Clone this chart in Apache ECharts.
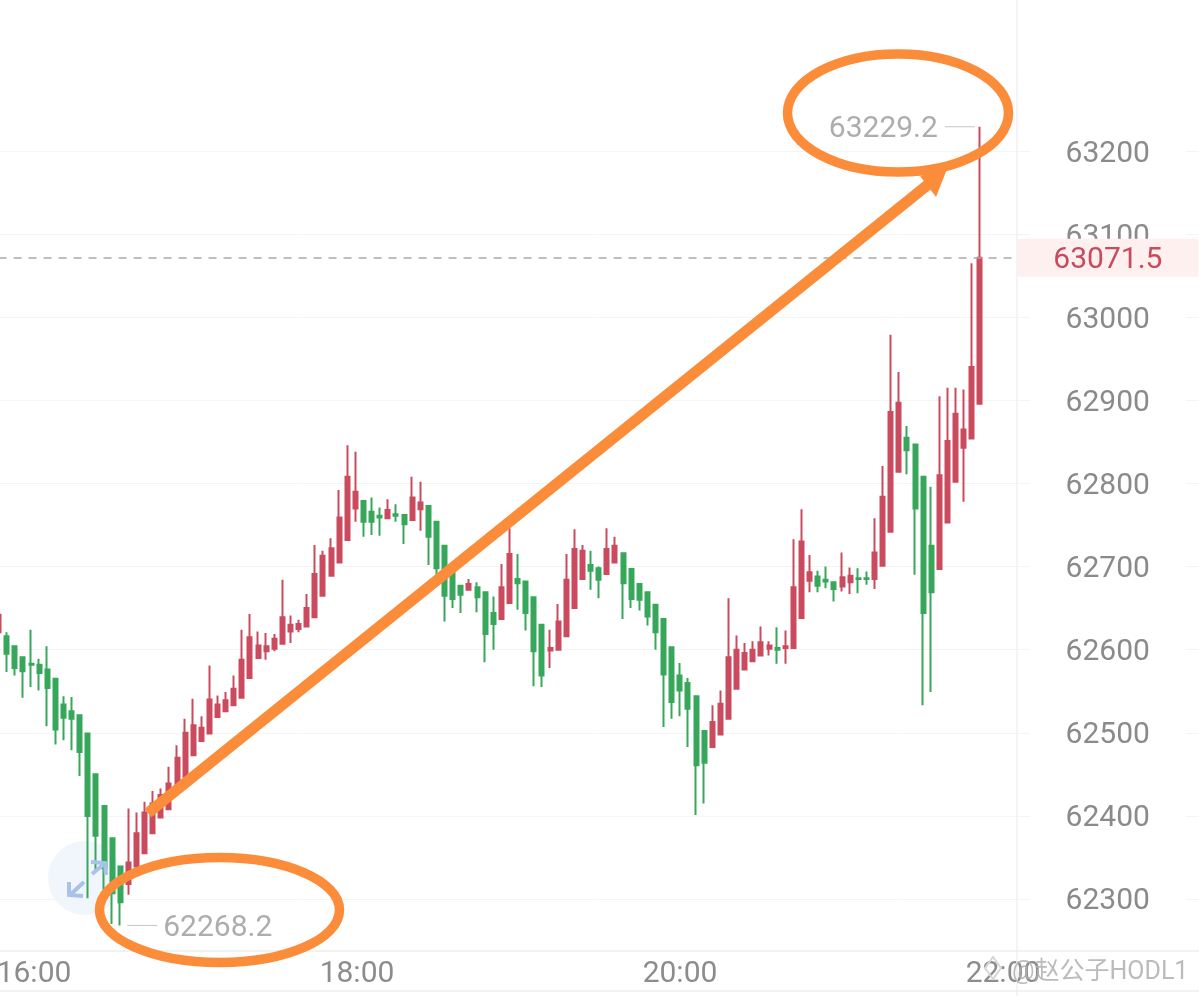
<!DOCTYPE html>
<html>
<head>
<meta charset="utf-8">
<style>html,body{margin:0;padding:0;background:#fff}#c{width:1199px;height:996px}</style>
<script src="https://cdn.jsdelivr.net/npm/echarts@6/dist/echarts.min.js"></script>
</head>
<body>
<div id="c"></div>
<script>
const opens = [62621,
62616,62604,62591,62583,62582,62576,62565,62534,62526,62521,62499,62450,62412,62373,62339,
62318,62339,62355,62379,62398,62408,62437,62447,62473,62490,62499,62519,62526,62533,62542,62566,62590,62598,62601,62607,62622,62625,62628,62639,62665,62689,62705,62732,62770,
62779,62766,62761,62758,62763,62762,62756,62769,62773,62754,62725,62692,62677,62672,62675,62669,62644,62637,62656,62685,62682,62663,62630,62599,62600,62616,62650,62685,62702,62698,62691,62705,62716,62697,62679,62669,62654,62637,62603,62569,62560,62544,62502,62483,62498,62517,62553,62576,62586,62593,62601,62602,62602,62602,62638,62683,62688,62684,62681,62676,62681,62686,62686,62685,62701,62742,62814,62855,62847,62808,62725,62697,62753,62802,62843,62854,62896];
const closes = [62642,
62595,62578,62574,62582,62572,62554,62504,62518,62517,62477,62400,62376,62337,62307,62296,
62344,62379,62404,62415,62425,62439,62470,62500,62509,62506,62540,62534,62539,62553,62588,62615,62605,62604,62613,62639,62630,62631,62650,62691,62713,62722,62759,62808,62790,
62754,62754,62759,62768,62761,62751,62783,62777,62736,62698,62665,62661,62666,62679,62663,62619,62631,62675,62715,62680,62644,62598,62569,62602,62634,62684,62721,62719,62695,62684,62721,62725,62680,62661,62660,62640,62621,62570,62537,62551,62529,62461,62464,62513,62535,62591,62600,62596,62600,62609,62605,62600,62604,62675,62730,62693,62677,62682,62673,62687,62689,62685,62685,62717,62784,62886,62897,62840,62770,62644,62669,62810,62851,62884,62865,62940,63071.5];
const lows = [62621,
62573,62569,62542,62555,62551,62508,62486,62491,62479,62448,62301,62335,62311,62270,62268.2,
62305,62338,62354,62379,62398,62408,62437,62447,62473,62490,62499,62519,62526,62533,62542,62566,62590,62588,62598,62607,62608,62621,62628,62639,62665,62689,62705,62732,62754,
62736,62738,62737,62758,62754,62727,62756,62743,62702,62690,62634,62650,62644,62672,62645,62585,62600,62637,62656,62648,62623,62556,62555,62578,62600,62616,62650,62685,62672,62662,62691,62705,62637,62650,62647,62629,62600,62507,62517,62520,62483,62401,62415,62483,62498,62517,62553,62576,62586,62593,62593,62583,62583,62602,62638,62669,62669,62674,62658,62670,62667,62668,62678,62673,62701,62742,62814,62811,62690,62533,62549,62697,62753,62802,62778,62854,62896];
const highs = [62648,
62621,62605,62592,62624,62589,62604,62565,62544,62543,62521,62499,62450,62412,62373,62339,
62409,62404,62417,62430,62433,62459,62485,62517,62541,62520,62581,62545,62549,62569,62624,62643,62622,62620,62619,62684,62641,62636,62667,62726,62719,62734,62792,62846,62838,
62779,62783,62771,62781,62775,62762,62808,62802,62773,62754,62725,62696,62677,62685,62681,62669,62664,62703,62746,62715,62682,62663,62630,62624,62655,62715,62745,62726,62719,62700,62746,62736,62717,62697,62679,62669,62654,62637,62603,62584,62566,62544,62502,62533,62551,62662,62617,62608,62610,62628,62610,62627,62623,62733,62769,62714,62695,62700,62681,62717,62699,62698,62694,62758,62821,62979,62934,62869,62847,62808,62796,62905,62915,62915,62913,63065,63229.2];
const timeTicks = ['16:00','18:00','20:00','22:00'];
const lastPrice = 63071.5;
const highestValue = 63229.2;
const lowestValue = 62268.2;

const RED = '#cb4b5e', GREEN = '#37a75b', ORANGE = '#fb8c3a';
const FONT = 'Roboto, "Noto Sans CJK SC", sans-serif';
const slotCount = 149;            // chart slots incl. the empty space on the right
const categories = Array.from({length: slotCount}, (_, i) => String(i));
const candles = opens.map((o, i) => [o, closes[i], lows[i], highs[i]]);
const highIdx = highs.indexOf(highestValue);
const lowIdx = lows.indexOf(lowestValue);

const chart = echarts.init(document.getElementById('c'), null, {renderer: 'canvas', width: 1199, height: 996});
chart.setOption({
  animation: false,
  backgroundColor: '#fff',
  grid: [
    {left: -5.47, width: 1208.39, top: 67.89, height: 914.22, outerBoundsMode: 'none', containLabel: false},
    {left: 34, width: 969, top: 0, height: 951, outerBoundsMode: 'none', containLabel: false}
  ],
  xAxis: [
    {type: 'category', gridIndex: 0, data: categories, show: false},
    {type: 'category', gridIndex: 1, data: timeTicks, boundaryGap: false,
     axisTick: {show: false},
     axisLine: {show: false},
     axisLabel: {interval: 0, color: '#8c8c8c', fontFamily: FONT, fontSize: 30, margin: 8, hideOverlap: false,
                 showMinLabel: true, showMaxLabel: true}}
  ],
  yAxis: [
    {type: 'value', gridIndex: 0, position: 'right', min: 62200, max: 63300, interval: 100,
     axisLine: {show: false}, axisTick: {show: false},
     splitLine: {show: true, showMinLine: false, showMaxLine: false, lineStyle: {color: '#f4f4f4', width: 1}},
     axisLabel: {inside: true, margin: 17,
                 formatter: v => '{a|' + v + '}',
                 rich: {a: {color: '#8a8a8a', fontFamily: FONT, fontSize: 30, padding: [6, 0, 0, 0]}},
                 showMinLabel: false, showMaxLabel: false,
                 backgroundColor: '#fff', padding: [0, 36, 0, 36]}},
    {type: 'value', gridIndex: 1, show: false}
  ],
  series: [{
    type: 'candlestick',
    xAxisIndex: 0, yAxisIndex: 0,
    data: candles,
    barWidth: 4.5,
    itemStyle: {color: RED, color0: GREEN, borderColor: RED, borderColor0: GREEN, borderWidth: 2},
    markLine: {
      silent: true, symbol: 'none',
      lineStyle: {type: [8, 7], color: '#a9a9a9', width: 1.5},
      data: [[
        {coord: ['0', lastPrice]},
        {coord: ['125', lastPrice],
         label: {show: true, position: 'end', distance: 5, formatter: '{a|' + lastPrice + '}',
                 rich: {a: {fontFamily: FONT, fontSize: 30, color: '#c94a5d', padding: [6, 0, 0, 0]}},
                 backgroundColor: '#fdf0ee', padding: [1, 36, 1, 36]}}
      ]]
    },
    markPoint: {
      silent: true, symbol: 'circle', symbolSize: 0,
      data: [
        {coord: [categories[highIdx], highestValue],
         label: {show: true, position: 'left', distance: 5, formatter: '{t|' + highestValue + '}{l|}',
                 rich: {t: {fontFamily: FONT, fontSize: 30, color: '#adadad', padding: [6, 7, 0, 0]},
                        l: {width: 30, height: 1, backgroundColor: '#c4c4c4'}}}},
        {coord: [categories[lowIdx], lowestValue],
         label: {show: true, position: 'right', distance: 7, formatter: '{l|}{t|' + lowestValue + '}',
                 rich: {t: {fontFamily: FONT, fontSize: 30, color: '#adadad', padding: [7, 0, 0, 6]},
                        l: {width: 30, height: 1, backgroundColor: '#c4c4c4'}}}}
      ]
    }
  }],
  graphic: [
    {type: 'line', silent: true, z: 1, shape: {x1: 1017, y1: 0, x2: 1017, y2: 996}, style: {stroke: '#f1f1f1', lineWidth: 1.5}},
    {type: 'line', silent: true, z: 1, shape: {x1: 0, y1: 951, x2: 1199, y2: 951}, style: {stroke: '#eeeeee', lineWidth: 1.5}},
    {type: 'line', silent: true, z: 1, shape: {x1: 0, y1: 991, x2: 1199, y2: 991}, style: {stroke: '#eeeeee', lineWidth: 1.5}},
    {type: 'circle', silent: true, z: 0, shape: {cx: 85, cy: 878, r: 37}, style: {fill: '#f1f5fc'}},
    {type: 'polyline', silent: true, z: 50, shape: {points: [[69,882],[69,895],[83,896]]}, style: {stroke: '#a9c2ea', fill: null, lineWidth: 4}},
    {type: 'line', silent: true, z: 50, shape: {x1: 70, y1: 895, x2: 84, y2: 882}, style: {stroke: '#a9c2ea', lineWidth: 4}},
    {type: 'polyline', silent: true, z: 50, shape: {points: [[91,862],[105,863],[106,875]]}, style: {stroke: '#a9c2ea', fill: null, lineWidth: 4}},
    {type: 'line', silent: true, z: 50, shape: {x1: 92, y1: 874, x2: 105, y2: 863}, style: {stroke: '#a9c2ea', lineWidth: 4}},
    {type: 'ellipse', silent: true, z: 100, shape: {cx: 898, cy: 113, rx: 110.5, ry: 59}, style: {stroke: ORANGE, fill: null, lineWidth: 9.5}},
    {type: 'ellipse', silent: true, z: 100, shape: {cx: 219.5, cy: 910, rx: 120, ry: 52.5}, style: {stroke: ORANGE, fill: null, lineWidth: 9.5}},
    {type: 'line', silent: true, z: 100, shape: {x1: 148, y1: 813, x2: 930, y2: 183}, style: {stroke: ORANGE, lineWidth: 11}},
    {type: 'polygon', silent: true, z: 100, shape: {points: [[947,169],[920,176],[936,197]]}, style: {fill: ORANGE}},
    {type: 'polygon', silent: true, z: 101, shape: {points: [[993,957],[1001,968],[993,979],[985,968]]}, style: {stroke: '#d6d6d6', fill: null, lineWidth: 2}},
    {type: 'text', silent: true, z: 101, x: 1012, y: 960, style: {text: '@赵公子HODL1', fill: 'rgba(175,175,175,0.85)', fontFamily: FONT, fontSize: 25}}
  ]
});
</script>
</body>
</html>
